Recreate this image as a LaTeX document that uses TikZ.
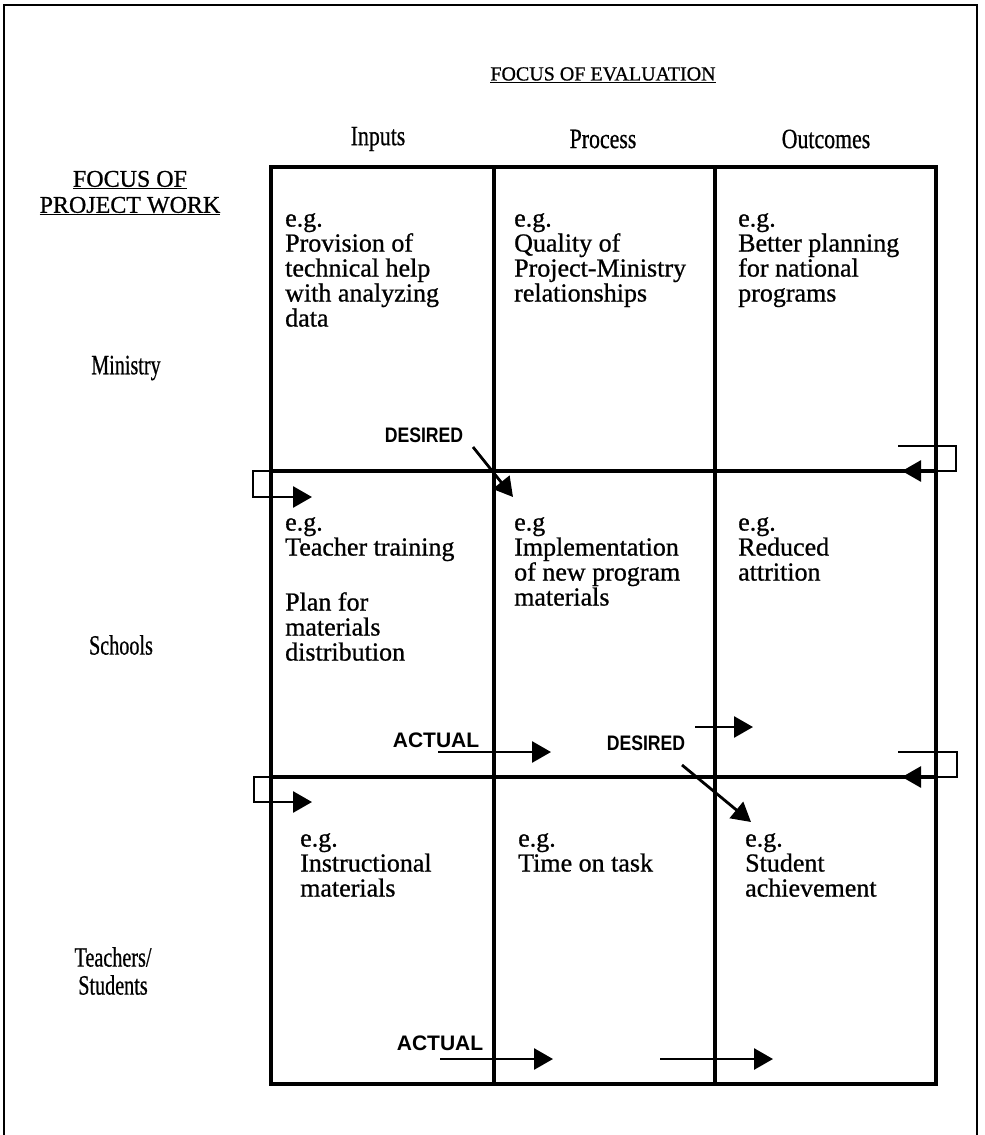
\documentclass[tikz,border=0pt]{standalone}
\usepackage{fontspec}
\setmainfont{Liberation Serif}
\newfontfamily\cellfont[FakeBold=0.8]{Liberation Serif}
\newfontfamily\condfont[FakeStretch=0.78,FakeBold=0.6]{Liberation Serif}
\newfontfamily\rowfont[FakeStretch=0.72,FakeBold=0.6]{Liberation Serif}
\newfontfamily\titlefont[FakeBold=0.8]{Liberation Serif}
\newfontfamily\labfont[FakeStretch=0.84]{Liberation Sans}
\newfontfamily\actfont{Liberation Sans}
\usetikzlibrary{arrows.meta}
\tikzset{
  gridline/.style={line width=3.4pt, line cap=rect},
  frameline/.style={line width=2pt},
  cell/.style={anchor=north west, inner sep=0pt, align=left, font=\cellfont\fontsize{26}{25}\selectfont},
  colhead/.style={inner sep=0pt, font=\condfont\fontsize{28}{28}\selectfont},
  rowhead/.style={inner sep=0pt, align=center, font=\rowfont\fontsize{28}{28}\selectfont},
  title/.style={inner sep=0pt, align=center, font=\titlefont\fontsize{20}{25}\selectfont},
  deslab/.style={inner sep=0pt, font=\labfont\bfseries\fontsize{21}{21}\selectfont},
  actlab/.style={inner sep=0pt, font=\actfont\bfseries\fontsize{21}{21}\selectfont},
  arr/.style={line width=2.8pt, -{Triangle[length=19pt,width=21pt]}},
  looparr/.style={line width=2.8pt, -{Triangle[length=19pt,width=21pt]}}
}
\begin{document}
\begin{tikzpicture}[x=1pt,y=-1pt]
\useasboundingbox (0,0) rectangle (985,1135);
% outer frame (open at bottom)
\draw[frameline] (4,1135) -- (4,5) -- (977,5) -- (977,1135);
% grid
\coordinate (TL) at (271,167);
\coordinate (BR) at (936,1084);
\draw[gridline] (TL) rectangle (BR);
\draw[gridline] (494,167) -- (494,1084);
\draw[gridline] (715,167) -- (715,1084);
\draw[gridline] (271,471) -- (936,471);
\draw[gridline] (271,777) -- (936,777);

% titles
\node[title] (fe) at (603,75) {\underline{FOCUS OF EVALUATION}};
\node[colhead] (hin) at (378,139) {Inputs};
\node[colhead] (hpr) at (603,139) {Process};
\node[colhead] (hou) at (826,139) {Outcomes};
\node[title, font=\titlefont\fontsize{24}{26}\selectfont] (fp) at (130,193) {\underline{FOCUS OF}\\\underline{PROJECT WORK}};
\node[rowhead] (rmin) at (126,368) {Ministry};
\node[rowhead] (rsch) at (121,645) {Schools};
\node[rowhead] (rtea) at (113,971) {Teachers/\\Students};

% cells row 1
\node[cell] (c11) at (285,213) {e.g.\\Provision of\\technical help\\with analyzing\\data};
\node[cell] (c12) at (514,213) {e.g.\\Quality of\\Project-Ministry\\relationships};
\node[cell] (c13) at (738,213) {e.g.\\Better planning\\for national\\programs};
% row 2
\node[cell] (c21) at (285,517) {e.g.\\Teacher training\\[30pt]Plan for\\materials\\distribution};
\node[cell] (c22) at (514,517) {e.g\\Implementation\\of new program\\materials};
\node[cell] (c23) at (738,517) {e.g.\\Reduced\\attrition};
% row 3
\node[cell] (c31) at (300,833) {e.g.\\Instructional\\materials};
\node[cell] (c32) at (518,833) {e.g.\\Time on task};
\node[cell] (c33) at (745,833) {e.g.\\Student\\achievement};

% labels
\node[deslab] (d1) at (424,435) {DESIRED};
\node[actlab] (a1) at (436,740) {ACTUAL};
\node[deslab] (d2) at (646,743) {DESIRED};
\node[actlab] (a2) at (440,1043) {ACTUAL};

% arrow coordinates
\coordinate (d1s) at (473,447);
\coordinate (d1e) at (513,497);
\coordinate (a1s) at (438,752);
\coordinate (a1e) at (551,752);
\coordinate (d2s) at (682,765);
\coordinate (d2e) at (751,822);
\coordinate (s2s) at (695,727);
\coordinate (s2e) at (753,727);
\coordinate (a2s) at (440,1059);
\coordinate (a2e) at (553,1059);
\coordinate (b2s) at (660,1059);
\coordinate (b2e) at (773,1059);

\draw[arr] (d1s) -- (d1e);
\draw[arr] (a1s) -- (a1e);
\draw[arr] (d2s) -- (d2e);
\draw[arr] (s2s) -- (s2e);
\draw[arr] (a2s) -- (a2e);
\draw[arr] (b2s) -- (b2e);

% loops
\coordinate (l1a) at (271,471);
\coordinate (l1e) at (312,497);
\draw[looparr] (l1a) -- (253,471) -- (253,497) -- (l1e);
\coordinate (l2a) at (271,777);
\coordinate (l2e) at (312,802);
\draw[looparr] (l2a) -- (254,777) -- (254,802) -- (l2e);
\coordinate (r1a) at (898,446);
\coordinate (r1e) at (902,471);
\draw[looparr] (r1a) -- (956,446) -- (956,471) -- (r1e);
\coordinate (r2a) at (898,752);
\coordinate (r2e) at (902,777);
\draw[looparr] (r2a) -- (957,752) -- (957,777) -- (r2e);
\end{tikzpicture}
\end{document}
